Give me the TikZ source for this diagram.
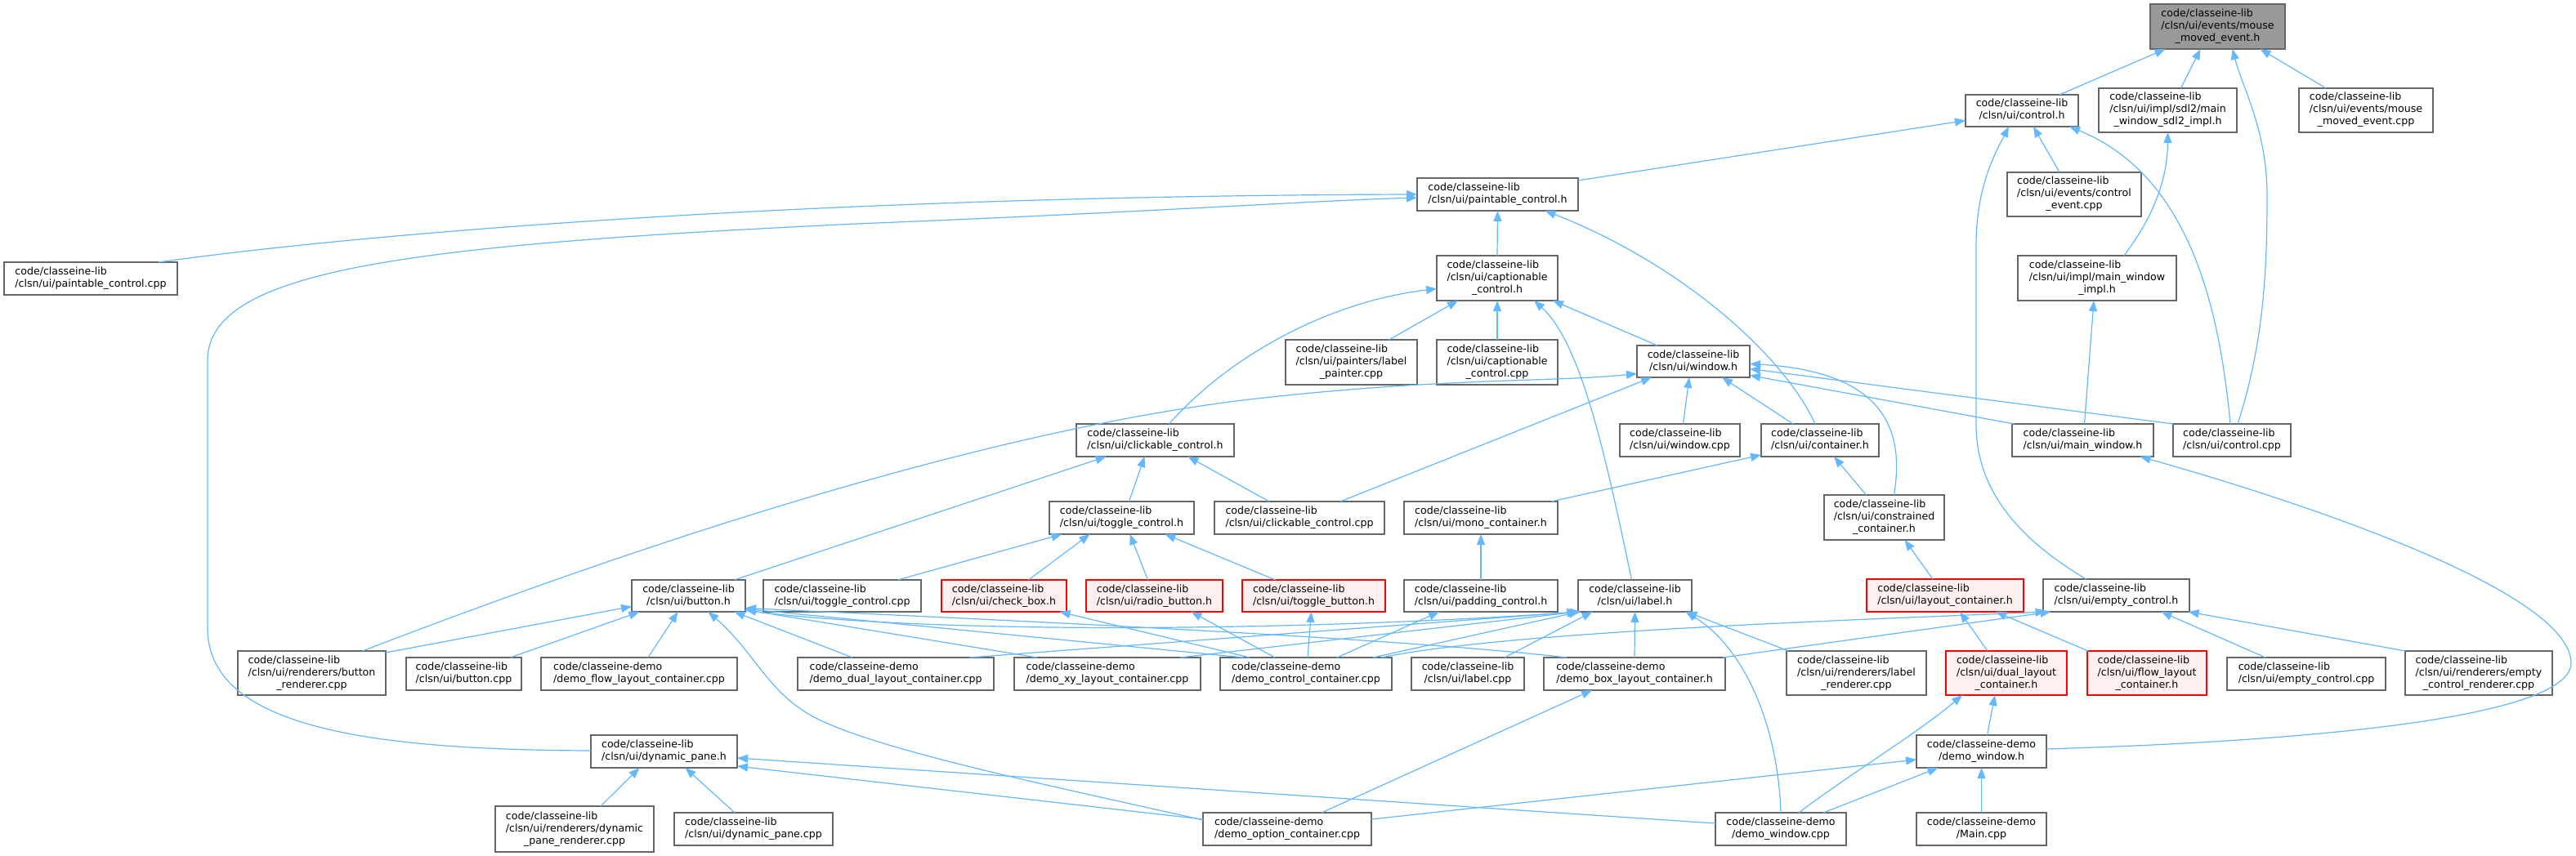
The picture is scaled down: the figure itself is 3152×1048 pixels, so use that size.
\documentclass[tikz,border=0pt]{standalone}
\usepackage{fontspec}
\setmainfont{DejaVu Sans}
\usetikzlibrary{arrows.meta}
\definecolor{edgec}{HTML}{63B8FF}
\definecolor{bordc}{HTML}{666666}
\definecolor{redfill}{HTML}{FFF0F0}
\definecolor{grayfill}{HTML}{999999}
\newcommand\ltwo[2]{\begin{tabular}{@{}l@{}}#1\\\multicolumn{1}{@{}c@{}}{#2}\end{tabular}}
\newcommand\lthree[3]{\begin{tabular}{@{}l@{}}#1\\#2\\\multicolumn{1}{@{}c@{}}{#3}\end{tabular}}
\newcommand\nd[7][]{\node[box,#1,minimum width={(#4-#3)*0.5pt},minimum height={(#6-#5)*0.5pt}] (#2) at ({(#3+#4)/2},{(#5+#6)/2}) {#7};}
\tikzset{
  box/.style={draw=bordc,fill=white,line width=0.7pt,inner sep=0pt,outer sep=0pt,font=\fontsize{6.3}{7.5}\selectfont,text=black},
  grayn/.style={fill=grayfill},
  redn/.style={draw=red,fill=redfill},
  edge/.style={draw=edgec,line width=0.6pt,-{Triangle[length=6.5pt,width=5pt]}},
  shx/.style={xshift=#1*0.5pt},
  shy/.style={yshift=-#1*0.5pt}
}
\begin{document}
\begin{tikzpicture}[x=0.5pt,y=-0.5pt]
\fill[white] (0,0) rectangle (3152,1048);
\useasboundingbox (0,0) rectangle (3152,1048);
% nodes
\nd[grayn]{M}{2631}{2796}{5}{60}{\lthree{code/classeine-lib}{/clsn/ui/events/mouse}{\_moved\_event.h}}
\nd{C}{2405}{2543}{116}{155}{\ltwo{code/classeine-lib}{/clsn/ui/control.h}}
\nd{SDL}{2568}{2737}{108}{162}{\lthree{code/classeine-lib}{/clsn/ui/impl/sdl2/main}{\_window\_sdl2\_impl.h}}
\nd{MMC}{2813}{2977}{108}{162}{\lthree{code/classeine-lib}{/clsn/ui/events/mouse}{\_moved\_event.cpp}}
\nd{P}{1734}{1931}{218}{258}{\ltwo{code/classeine-lib}{/clsn/ui/paintable\_control.h}}
\nd{CE}{2456}{2620}{211}{265}{\lthree{code/classeine-lib}{/clsn/ui/events/control}{\_event.cpp}}
\nd{PCPP}{5}{217}{321}{361}{\ltwo{code/classeine-lib}{/clsn/ui/paintable\_control.cpp}}
\nd{CC}{1758}{1906}{313}{368}{\lthree{code/classeine-lib}{/clsn/ui/captionable}{\_control.h}}
\nd{MWI}{2469}{2663}{313}{368}{\lthree{code/classeine-lib}{/clsn/ui/impl/main\_window}{\_impl.h}}
\nd{LP}{1573}{1734}{416}{471}{\lthree{code/classeine-lib}{/clsn/ui/painters/label}{\_painter.cpp}}
\nd{CCC}{1758}{1906}{416}{471}{\lthree{code/classeine-lib}{/clsn/ui/captionable}{\_control.cpp}}
\nd{W}{2003}{2141}{423}{462}{\ltwo{code/classeine-lib}{/clsn/ui/window.h}}
\nd{CK}{1317}{1510}{519}{559}{\ltwo{code/classeine-lib}{/clsn/ui/clickable\_control.h}}
\nd{WC}{1982}{2129}{519}{559}{\ltwo{code/classeine-lib}{/clsn/ui/window.cpp}}
\nd{CT}{2155}{2299}{519}{559}{\ltwo{code/classeine-lib}{/clsn/ui/container.h}}
\nd{MW}{2462}{2635}{519}{559}{\ltwo{code/classeine-lib}{/clsn/ui/main\_window.h}}
\nd{CCPP}{2659}{2803}{519}{559}{\ltwo{code/classeine-lib}{/clsn/ui/control.cpp}}
\nd{TC}{1284}{1461}{614}{654}{\ltwo{code/classeine-lib}{/clsn/ui/toggle\_control.h}}
\nd{CKC}{1486}{1694}{614}{654}{\ltwo{code/classeine-lib}{/clsn/ui/clickable\_control.cpp}}
\nd{MC}{1718}{1906}{614}{654}{\ltwo{code/classeine-lib}{/clsn/ui/mono\_container.h}}
\nd{CON}{2232}{2379}{606}{661}{\lthree{code/classeine-lib}{/clsn/ui/constrained}{\_container.h}}
\nd{B}{773}{912}{710}{749}{\ltwo{code/classeine-lib}{/clsn/ui/button.h}}
\nd{TCC}{934}{1127}{710}{749}{\ltwo{code/classeine-lib}{/clsn/ui/toggle\_control.cpp}}
\nd[redn]{CB}{1152}{1305}{710}{749}{\ltwo{code/classeine-lib}{/clsn/ui/check\_box.h}}
\nd[redn]{RB}{1329}{1496}{710}{749}{\ltwo{code/classeine-lib}{/clsn/ui/radio\_button.h}}
\nd[redn]{TB}{1520}{1695}{710}{749}{\ltwo{code/classeine-lib}{/clsn/ui/toggle\_button.h}}
\nd{PAD}{1718}{1906}{710}{749}{\ltwo{code/classeine-lib}{/clsn/ui/padding\_control.h}}
\nd{LBL}{1931}{2070}{710}{749}{\ltwo{code/classeine-lib}{/clsn/ui/label.h}}
\nd[redn]{LC}{2284}{2476}{709}{749}{\ltwo{code/classeine-lib}{/clsn/ui/layout\_container.h}}
\nd{EC}{2500}{2679}{709}{749}{\ltwo{code/classeine-lib}{/clsn/ui/empty\_control.h}}
\nd{BR}{291}{472}{797}{851}{\lthree{code/classeine-lib}{/clsn/ui/renderers/button}{\_renderer.cpp}}
\nd{BC}{497}{638}{805}{845}{\ltwo{code/classeine-lib}{/clsn/ui/button.cpp}}
\nd{FLD}{662}{902}{805}{845}{\ltwo{code/classeine-demo}{/demo\_flow\_layout\_container.cpp}}
\nd{DUD}{976}{1216}{805}{845}{\ltwo{code/classeine-demo}{/demo\_dual\_layout\_container.cpp}}
\nd{XY}{1241}{1469}{805}{845}{\ltwo{code/classeine-demo}{/demo\_xy\_layout\_container.cpp}}
\nd{DCC}{1493}{1703}{805}{845}{\ltwo{code/classeine-demo}{/demo\_control\_container.cpp}}
\nd{LCPP}{1727}{1865}{805}{845}{\ltwo{code/classeine-lib}{/clsn/ui/label.cpp}}
\nd{BOX}{1889}{2111}{805}{845}{\ltwo{code/classeine-demo}{/demo\_box\_layout\_container.h}}
\nd{LR}{2186}{2357}{797}{851}{\lthree{code/classeine-lib}{/clsn/ui/renderers/label}{\_renderer.cpp}}
\nd[redn]{DLC}{2381}{2529}{797}{851}{\lthree{code/classeine-lib}{/clsn/ui/dual\_layout}{\_container.h}}
\nd[redn]{FLC}{2554}{2700}{797}{851}{\lthree{code/classeine-lib}{/clsn/ui/flow\_layout}{\_container.h}}
\nd{ECC}{2725}{2919}{805}{845}{\ltwo{code/classeine-lib}{/clsn/ui/empty\_control.cpp}}
\nd{ECR}{2943}{3123}{797}{851}{\lthree{code/classeine-lib}{/clsn/ui/renderers/empty}{\_control\_renderer.cpp}}
\nd{DP}{723}{902}{900}{940}{\ltwo{code/classeine-lib}{/clsn/ui/dynamic\_pane.h}}
\nd{DW}{2345}{2504}{900}{940}{\ltwo{code/classeine-demo}{/demo\_window.h}}
\nd{DPR}{606}{800}{987}{1043}{\lthree{code/classeine-lib}{/clsn/ui/renderers/dynamic}{\_pane\_renderer.cpp}}
\nd{DPC}{825}{1019}{995}{1035}{\ltwo{code/classeine-lib}{/clsn/ui/dynamic\_pane.cpp}}
\nd{OPT}{1472}{1678}{995}{1035}{\ltwo{code/classeine-demo}{/demo\_option\_container.cpp}}
\nd{DWC}{2099}{2259}{995}{1035}{\ltwo{code/classeine-demo}{/demo\_window.cpp}}
\nd{MAIN}{2345}{2504}{995}{1035}{\ltwo{code/classeine-demo}{/Main.cpp}}
% edges into mouse_moved_event.h
\draw[edge] ([shx=46]C.north) -- ([shx=-64]M.south);
\draw[edge] ([shx=16]SDL.north) -- ([shx=-21]M.south);
\draw[edge] ([shx=7]CCPP.north) .. controls (2770,420) and (2774,330) .. (2774,240) .. controls (2774,160) and (2745,110) .. ([shx=18]M.south);
\draw[edge] ([shx=-49]MMC.north) -- ([shx=52]M.south);
% into control.h
\draw[edge] ([shy=-17]P.east) -- ([shy=12]C.west);
\draw[edge] ([shx=-18]CE.north) -- ([shx=14]C.south);
\draw[edge] ([shx=-37]EC.north) .. controls (2470,660) and (2418,600) .. (2418,520) -- (2418,300) .. controls (2418,230) and (2440,190) .. ([shx=-16]C.south);
\draw[edge] ([shx=-2]CCPP.north) .. controls (2716,380) and (2680,215) .. ([shx=58]C.south);
% sdl2 / impl
\draw[edge] ([shx=33]MWI.north) .. controls (2635,265) and (2652,220) .. (SDL.south);
\draw[edge] ([shx=2]MW.north) -- ([shx=-4]MWI.south);
% into paintable_control.h
\draw[edge] ([shx=83]PCPP.north) .. controls (450,285) and (1000,240) .. (P.west);
\draw[edge] ([shy=-1]DP.west) .. controls (450,918) and (254,890) .. (254,769) -- (254,441) .. controls (254,330) and (500,300) .. (1048,274) .. controls (1400,260) and (1600,246) .. ([shy=4]P.west);
\draw[edge] (CC.north) -- (P.south);
\draw[edge] ([shx=-6]CT.north) .. controls (2180,430) and (2050,320) .. ([shx=58]P.south);
% into captionable_control.h
\draw[edge] ([shx=17]CK.north) .. controls (1500,440) and (1620,370) .. ([shy=13]CC.west);
\draw[edge] ([shx=46]LP.north) -- ([shx=-48]CC.south);
\draw[edge] (CCC.north) -- (CC.south);
\draw[edge] ([shx=-4]LBL.north) .. controls (1965,560) and (1935,420) .. ([shx=45]CC.south);
\draw[edge] ([shx=-44]W.north) -- ([shx=68]CC.south);
% into window.h
\draw[edge] ([shx=62]BR.north) .. controls (800,660) and (1200,530) .. (1520,490) .. controls (1760,462) and (1900,468) .. ([shy=15]W.west);
\draw[edge] ([shx=50]CKC.north) -- ([shx=-51]W.south);
\draw[edge] ([shx=4]WC.north) -- ([shx=-5]W.south);
\draw[edge] ([shx=-33]CT.north) -- ([shx=35]W.south);
\draw[edge] ([shx=12]CON.north) .. controls (2330,530) and (2310,455) .. ([shy=3]W.east);
\draw[edge] ([shx=-84]MW.north) -- ([shy=17]W.east);
\draw[edge] ([shx=-72]CCPP.north) -- ([shy=9]W.east);
% into clickable_control.h
\draw[edge] ([shx=56]B.north) -- ([shx=-60]CK.south);
\draw[edge] ([shx=9]TC.north) -- ([shx=-13]CK.south);
\draw[edge] ([shx=-37]CKC.north) -- ([shx=40]CK.south);
% into container.h
\draw[edge] ([shx=86]MC.north) -- ([shy=18]CT.west);
\draw[edge] ([shx=-22]CON.north) -- ([shx=17]CT.south);
% into main_window.h
\draw[edge] ([shy=-3]DW.east) .. controls (2900,905) and (3150,870) .. (3146,810) .. controls (3140,720) and (2800,610) .. ([shx=70]MW.south);
% into toggle_control.h
\draw[edge] ([shx=68]TCC.north) -- ([shx=-73]TC.south);
\draw[edge] ([shx=30]CB.north) -- ([shx=-39]TC.south);
\draw[edge] ([shx=-8]RB.north) -- ([shx=10]TC.south);
\draw[edge] ([shx=-47]TB.north) -- ([shx=53]TC.south);
\draw[edge] (PAD.north) -- (MC.south);
\draw[edge] ([shx=-15]LC.north) -- ([shx=25]CON.south);
% into button.h
\draw[edge] ([shy=-25]BR.east) -- ([shy=13]B.west);
\draw[edge] ([shx=57]BC.north) -- ([shx=-60]B.south);
\draw[edge] ([shx=11]FLD.north) -- ([shx=-13]B.south);
\draw[edge] ([shy=-11]OPT.west) .. controls (1300,965) and (1080,920) .. (1000,880) .. controls (940,850) and (925,800) .. ([shx=24]B.south);
\draw[edge] ([shx=-53]DUD.north) -- ([shx=56]B.south);
\draw[edge] ([shx=-86]XY.north) -- ([shy=17]B.east);
\draw[edge] ([shx=-76]DCC.north) -- ([shy=16]B.east);
\draw[edge] ([shx=-83]BOX.north) .. controls (1700,780) and (1200,758) .. ([shy=15]B.east);
\draw[edge] ([shy=18]B.east) .. controls (1150,778) and (1600,772) .. ([shx=-66]LBL.south);
% from demo_control_container.cpp
\draw[edge] ([shx=-69]DCC.north) -- ([shx=68]CB.south);
\draw[edge] ([shx=-38]DCC.north) -- ([shx=45]RB.south);
\draw[edge] ([shx=2]DCC.north) -- ([shx=-3]TB.south);
\draw[edge] ([shx=38]DCC.north) -- ([shx=-51]PAD.south);
\draw[edge] ([shx=82]DCC.north) -- ([shx=-68]LBL.south);
\draw[edge] ([shx=92]DCC.north) .. controls (1850,772) and (2300,758) .. ([shx=-86]EC.south);
% into label.h
\draw[edge] ([shx=90]DUD.north) -- ([shx=-70]LBL.south);
\draw[edge] ([shx=89]XY.north) -- ([shx=-70]LBL.south);
\draw[edge] ([shx=45]LCPP.north) -- ([shx=-52]LBL.south);
\draw[edge] (BOX.north) -- (LBL.south);
\draw[edge] ([shx=-83]LR.north) -- ([shx=63]LBL.south);
\draw[edge] (DWC.north) .. controls (2175,880) and (2130,790) .. ([shx=62]LBL.south);
% into layout / empty control
\draw[edge] ([shx=-23]DLC.north) -- ([shx=18]LC.south);
\draw[edge] ([shx=-72]FLC.north) -- ([shx=62]LC.south);
\draw[edge] ([shx=108]BOX.north) -- ([shx=-80]EC.south);
\draw[edge] ([shx=-50]ECC.north) -- ([shx=55]EC.south);
\draw[edge] ([shx=-90]ECR.north) -- ([shx=88]EC.south);
% demo window
\draw[edge] ([shx=7]DW.north) -- ([shx=-14]DLC.south);
\draw[edge] ([shx=22]DWC.north) .. controls (2260,950) and (2350,895) .. ([shx=-54]DLC.south);
\draw[edge] (MAIN.north) -- (DW.south);
\draw[edge] ([shx=52]DWC.north) -- ([shx=-53]DW.south);
\draw[edge] ([shy=-12]OPT.east) -- ([shy=10]DW.west);
\draw[edge] ([shx=42]OPT.north) -- ([shx=-52]BOX.south);
% dynamic pane
\draw[edge] ([shx=32]DPR.north) -- ([shx=-30]DP.south);
\draw[edge] ([shx=-23]DPC.north) -- ([shx=26]DP.south);
\draw[edge] ([shy=-12]OPT.west) -- ([shy=18]DP.east);
\draw[edge] ([shy=-7]DWC.west) -- ([shy=8]DP.east);
\end{tikzpicture}
\end{document}
